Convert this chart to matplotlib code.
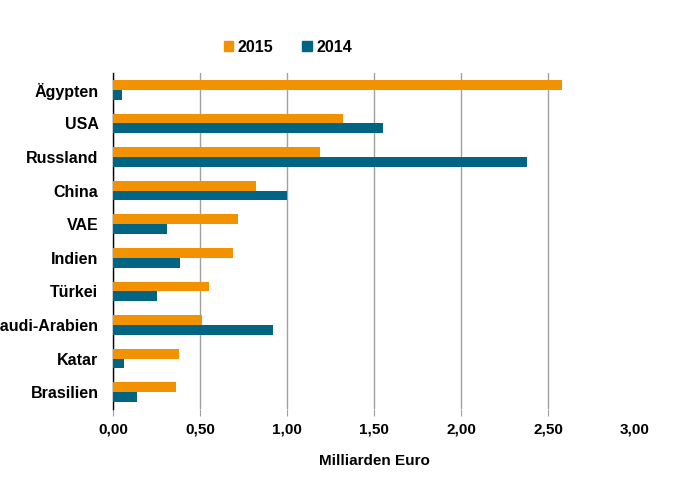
import matplotlib
matplotlib.use("Agg")
import matplotlib.pyplot as plt
import numpy as np
from matplotlib.patches import Patch

countries = ["Ägypten", "USA", "Russland", "China", "VAE", "Indien", "Türkei",
             "Saudi-Arabien", "Katar", "Brasilien"]
values_2015 = [2.58, 1.32, 1.19, 0.82, 0.72, 0.69, 0.55, 0.51, 0.38, 0.36]
values_2014 = [0.05, 1.55, 2.38, 1.00, 0.31, 0.385, 0.25, 0.92, 0.063, 0.14]
xticks = [0, 0.5, 1.0, 1.5, 2.0, 2.5, 3.0]
xtick_labels = ["0,00", "0,50", "1,00", "1,50", "2,00", "2,50", "3,00"]

orange = "#F39200"
teal = "#006482"

plt.rcParams['font.family'] = ['Liberation Sans', 'DejaVu Sans']
fig = plt.figure(figsize=(6.73, 4.92), dpi=100)
ax = fig.add_axes([113/673, 1-409/492, (635-113)/673, (409-73)/492])

y = np.arange(len(countries))
h = 0.29
ax.barh(y - h/2, values_2015, height=h, color=orange, label="2015", zorder=3)
ax.barh(y + h/2, values_2014, height=h, color=teal, label="2014", zorder=3)

ax.set_xlim(0, 3.0)
ax.set_ylim(len(countries) - 0.5, -0.5)
ax.set_yticks(y)
ax.set_yticklabels(countries, fontsize=11.5, fontweight='bold')
ax.set_xticks(xticks)
ax.set_xticklabels(xtick_labels, fontsize=11, fontweight='bold')
ax.tick_params(axis='y', length=0, pad=10.5)
ax.tick_params(axis='x', length=5, color='#A0A0A0', pad=5)
ax.grid(axis='x', color='#A0A0A0', linewidth=1, zorder=0)
# no gridline / tick mark at the last tick (3,00)
xt = ax.xaxis.get_major_ticks()
xt[-1].tick1line.set_visible(False)
xt[-1].gridline.set_visible(False)
xt[0].tick1line.set_color('black')
for s in ['top', 'right', 'bottom']:
    ax.spines[s].set_visible(False)
ax.spines['left'].set_color('black')
ax.spines['left'].set_linewidth(1)
ax.set_xlabel("Milliarden Euro", fontsize=11, fontweight='bold', labelpad=12)

handles = [Patch(color=orange, label="2015"), Patch(color=teal, label="2014")]
fig.legend(handles=handles, loc='center', bbox_to_anchor=(288/673, 1-47/492), ncol=2,
           frameon=False, prop={'size': 11.5, 'weight': 'bold'},
           handlelength=0.58, handleheight=0.58, handletextpad=0.3, columnspacing=1.8)

fig.savefig("out.png", dpi=100)
